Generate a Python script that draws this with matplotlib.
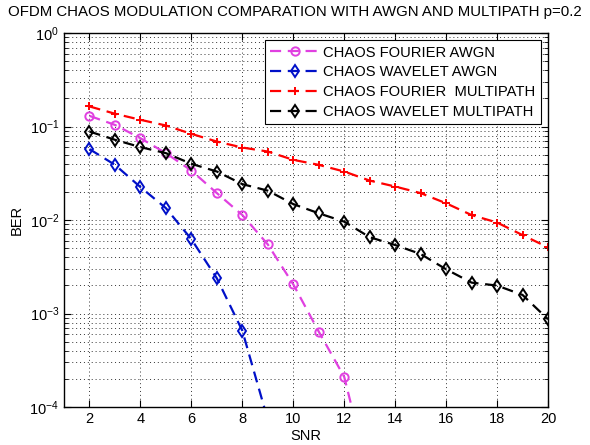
import numpy as np
import matplotlib
matplotlib.use("Agg")
import matplotlib.pyplot as plt
from matplotlib.ticker import LogLocator, NullFormatter, FixedLocator

plt.rcParams['font.family'] = ['Liberation Sans', 'DejaVu Sans']
plt.rcParams['mathtext.fontset'] = 'custom'
plt.rcParams['mathtext.rm'] = 'Liberation Sans'

# SNR values (dB)
snr = np.arange(2, 21)

# BER
ber_fourier_awgn = [0.130, 0.104, 0.075, 0.0519, 0.0338, 0.0194, 0.0113,
                    0.00548, 0.00205, 0.00064, 0.00021, 1.7e-5]
ber_wavelet_awgn = [0.0573, 0.0389, 0.0225, 0.0134, 0.00623, 0.00238,
                    0.000655, 7.3e-5]
ber_fourier_multi = [0.164, 0.137, 0.118, 0.1025, 0.0835, 0.069, 0.0596,
                     0.054, 0.044, 0.0389, 0.033, 0.0264, 0.0228, 0.0194,
                     0.0151, 0.0113, 0.0094, 0.0069, 0.0051]
ber_wavelet_multi = [0.0884, 0.0721, 0.0602, 0.0519, 0.0399, 0.033, 0.0242,
                     0.0206, 0.0148, 0.0118, 0.0096, 0.00655, 0.0054,
                     0.00433, 0.00297, 0.00214, 0.00199, 0.00158, 0.000867]

labels = ['CHAOS FOURIER AWGN', 'CHAOS WAVELET AWGN',
          'CHAOS FOURIER  MULTIPATH', 'CHAOS WAVELET MULTIPATH']

fig = plt.figure(figsize=(5.9, 4.45), dpi=100)
ax = fig.add_axes([0.1085, 0.0854, 0.8203, 0.8404])

style = dict(linestyle=(0, (5, 3)), linewidth=1.6, markersize=6,
             markerfacecolor='none', markeredgewidth=1.4)
ax.semilogy(snr[:len(ber_fourier_awgn)], ber_fourier_awgn, color='#e040e0',
            marker='o', label=labels[0], **style)
ax.semilogy(snr[:len(ber_wavelet_awgn)], ber_wavelet_awgn, color='#0010c8',
            marker='d', label=labels[1], **style)
ax.semilogy(snr, ber_fourier_multi, color='#ff0000',
            marker='+', label=labels[2], **style)
ax.semilogy(snr, ber_wavelet_multi, color='black',
            marker='d', label=labels[3], **style)

ax.set_xlim(1, 20)
ax.set_ylim(1e-4, 1)
ax.xaxis.set_major_locator(FixedLocator(np.arange(2, 21, 2)))
ax.yaxis.set_major_locator(LogLocator(base=10, numticks=10))
ax.yaxis.set_minor_locator(LogLocator(base=10, subs=np.arange(2, 10), numticks=10))
ax.yaxis.set_minor_formatter(NullFormatter())

# sparse dotted grid like the original
grid_style = dict(linestyle=(0, (1, 3)), color='#333333', linewidth=0.7)
ax.grid(True, which='major', **grid_style)
ax.grid(True, which='minor', axis='y', **grid_style)

ax.tick_params(which='both', direction='in', top=True, right=True,
               labelsize=10.5)
ax.tick_params(which='major', length=5)
ax.tick_params(which='minor', length=3)
for s in ax.spines.values():
    s.set_linewidth(1.0)

ax.set_xlabel('SNR', fontsize=10.5, labelpad=2)
ax.set_ylabel('BER', fontsize=10.5, labelpad=4)
# title is centred on the figure, not the axes, in the original
fig.text(0.5, 0.973, 'OFDM CHAOS MODULATION COMPARATION WITH AWGN AND MULTIPATH p=0.2',
         fontsize=10.8, ha='center', va='center')

leg = ax.legend(loc='upper right', fontsize=10.6, handlelength=3.3,
                frameon=True, fancybox=False, edgecolor='black',
                framealpha=1, borderpad=0.35, labelspacing=0.4,
                handletextpad=0.3, borderaxespad=0.5)
leg.get_frame().set_linewidth(0.8)

fig.savefig('out.png', dpi=100)
